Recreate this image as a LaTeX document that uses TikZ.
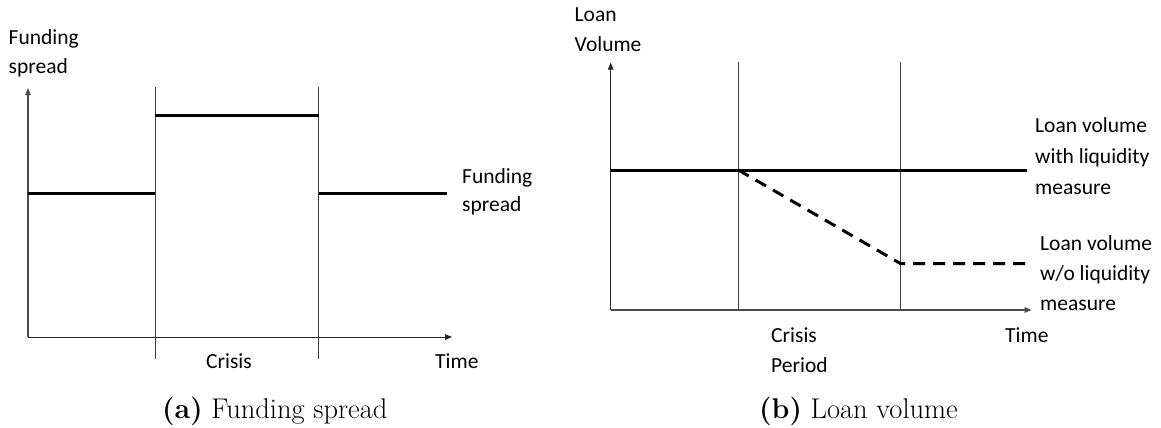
\documentclass[tikz,border=0pt]{standalone}
\usepackage{fontspec}
\newfontfamily\carlito{Carlito}
\usetikzlibrary{arrows.meta}
\begin{document}
\begin{tikzpicture}[x=1pt,y=-1pt,
  axisA/.style={line width=1.1pt,draw=black!70,-{Triangle[length=7pt,width=5.5pt]}},
  axisB/.style={line width=1pt,draw=black!85,-{Triangle[length=7pt,width=5.5pt]}},
  vline/.style={line width=1.1pt,draw=black!75},
  thick line/.style={line width=3pt,draw=black},
  dash line/.style={line width=3pt,draw=black,dash pattern=on 12pt off 8pt},
  lbl/.style={anchor=base west,inner sep=0pt,font=\carlito\fontsize{21.5}{26}\selectfont},
  captext/.style={anchor=base west,inner sep=0pt,font=\fontsize{28.5}{32}\selectfont}]
\useasboundingbox (0,0) rectangle (1161,428);
% ---------- left panel ----------
\coordinate (O1) at (28,337);
\coordinate (Y1) at (28,88);
\coordinate (X1) at (452,337);
\coordinate (A1t) at (155.3,87);  \coordinate (A1b) at (155.3,359);
\coordinate (A2t) at (318.7,87);  \coordinate (A2b) at (318.7,359);
\coordinate (L1) at (28,193.7);   \coordinate (L2) at (155.3,193.7);
\coordinate (T1) at (155.3,115.7);\coordinate (T2) at (318.7,115.7);
\coordinate (R1) at (318.7,193.7);\coordinate (R2) at (446.5,193.7);
\draw[vline] (A1t) -- (A1b);
\draw[vline] (A2t) -- (A2b);
\draw[axisA] (O1) -- (Y1);
\draw[axisB] (O1) -- (X1);
\draw[thick line] (L1) -- (L2);
\draw[thick line] (T1) -- (T2);
\draw[thick line] (R1) -- (R2);
\node[lbl] (fs1) at (8.5,45) {Funding};
\node[lbl] (fs2) at (8.5,73.5) {spread};
\node[lbl] (fr1) at (462,183) {Funding};
\node[lbl] (fr2) at (462,211.5) {spread};
\node[lbl] (crA) at (206,368) {Crisis};
\node[lbl] (tmA) at (435,368) {Time};
% ---------- right panel ----------
\coordinate (O2) at (610.7,310);
\coordinate (Y2) at (610.7,62.5);
\coordinate (X2) at (1031.6,310);
\coordinate (B1t) at (738.3,62);  \coordinate (B1b) at (738.3,310);
\coordinate (B2t) at (900.7,62);  \coordinate (B2b) at (900.7,310);
\coordinate (S1) at (610.7,170);  \coordinate (S2) at (1027,170);
\coordinate (D1) at (738.3,170);  \coordinate (D2) at (900.7,263.7);
\coordinate (D3) at (1027,263.7);
\draw[vline] (B1t) -- (B1b);
\draw[vline] (B2t) -- (B2b);
\draw[axisB] (O2) -- (Y2);
\draw[axisA] (O2) -- (X2);
\draw[thick line] (S1) -- (S2);
\draw[dash line] (D1) -- (D2) -- (D3);
\node[lbl] (lv1) at (574.5,21.7) {Loan};
\node[lbl] (lv2) at (574.5,51.7) {Volume};
\node[lbl] (wl1) at (1035,132) {Loan volume};
\node[lbl] (wl2) at (1035,163) {with liquidity};
\node[lbl] (wl3) at (1035,194) {measure};
\node[lbl] (wo1) at (1040,250) {Loan volume};
\node[lbl] (wo2) at (1040,280) {w/o liquidity};
\node[lbl] (wo3) at (1040,310) {measure};
\node[lbl] (crB1) at (771,342) {Crisis};
\node[lbl] (crB2) at (771,372) {Period};
\node[lbl] (tmB) at (1005,342) {Time};
% ---------- captions ----------
\node[captext] (capA) at (162,418) {\textbf{(a)} Funding spread};
\node[captext] (capB) at (759,418) {\textbf{(b)} Loan volume};
\end{tikzpicture}
\end{document}
